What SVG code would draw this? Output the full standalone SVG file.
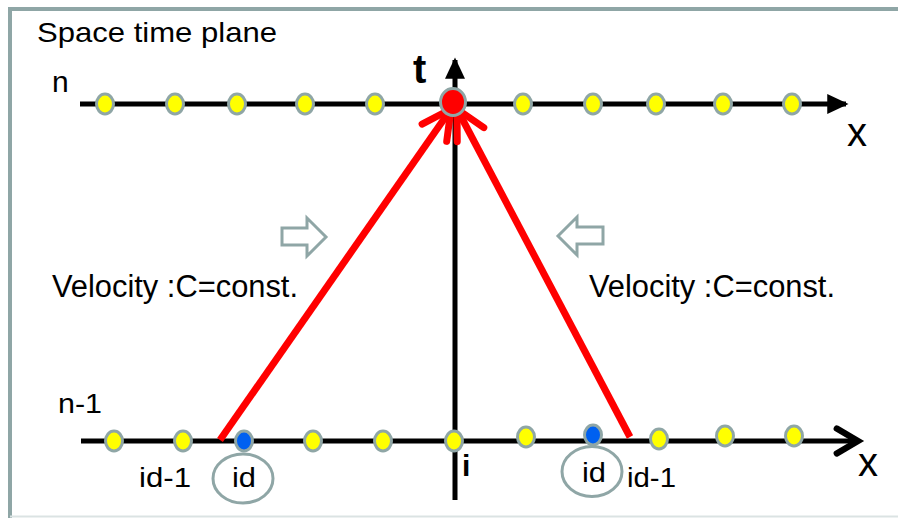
<svg xmlns="http://www.w3.org/2000/svg" width="898" height="518" viewBox="0 0 898 518">
<defs>
<style>
.lbl{font-family:"Liberation Sans",Arial,sans-serif;fill:#000;}
.dot{fill:#ffff00;stroke:#8fa6a6;stroke-width:3;}
.bdot{fill:#0060f0;stroke:#8fa6a6;stroke-width:3;}
.axis{stroke:#000;stroke-width:5;fill:none;}
.ray{stroke:#ff0000;stroke-width:7;fill:none;stroke-linecap:butt;}
.hollow{fill:#fff;stroke:#8fa6a6;stroke-width:3;stroke-linejoin:miter;}
.ring{fill:none;stroke:#8fa6a6;stroke-width:3;}
</style>
<marker id="tri" markerUnits="userSpaceOnUse" markerWidth="30" markerHeight="30" refX="0" refY="0" viewBox="-20 -10 24 20" orient="auto" overflow="visible">
<path d="M-15,-8 L2,0 L-15,8 Z" fill="#000"/>
</marker>
<marker id="open" markerUnits="userSpaceOnUse" markerWidth="30" markerHeight="30" refX="0" refY="0" viewBox="-20 -12 24 24" orient="auto" overflow="visible">
<path d="M-17,-10 L0,0 L-17,10" fill="none" stroke="#000" stroke-width="5" stroke-linecap="round" stroke-linejoin="miter"/>
</marker>
<marker id="redhead" markerUnits="userSpaceOnUse" markerWidth="40" markerHeight="40" refX="0" refY="0" viewBox="-35 -20 40 40" orient="auto" overflow="visible">
<path d="M-29,-15 L0,0 L-29,15" fill="none" stroke="#ff0000" stroke-width="7" stroke-linecap="round" stroke-linejoin="round"/>
</marker>
</defs>
<rect width="898" height="518" fill="#fff"/>
<g id="frame">
<path d="M10,520 L10,9 L900,9" fill="none" stroke="#8fa6a6" stroke-width="4"/>
<line x1="10" y1="516.5" x2="898" y2="516.5" stroke="#dbe3e3" stroke-width="2"/>
</g>
<text id="title" class="lbl" x="37" y="42" font-size="28" textLength="240" lengthAdjust="spacingAndGlyphs">Space time plane</text>
<g id="connectors">
<line id="t-axis" class="axis" x1="455" y1="500" x2="455" y2="60" stroke-width="4.5" marker-end="url(#tri)"/>
<line id="x-axis-n" class="axis" x1="80" y1="104" x2="846" y2="104" marker-end="url(#tri)"/>
<line id="x-axis-n1" class="axis" x1="81" y1="441" x2="858" y2="441" marker-end="url(#open)"/>
<line id="ray-left" class="ray" x1="220" y1="440" x2="451" y2="109" marker-end="url(#redhead)"/>
<line id="ray-right" class="ray" x1="630" y1="437" x2="457" y2="109" marker-end="url(#redhead)"/>
</g>
<g id="row-n">
<ellipse class="dot" cx="105" cy="104" rx="8.5" ry="10"/>
<ellipse class="dot" cx="175" cy="104" rx="8.5" ry="10"/>
<ellipse class="dot" cx="237" cy="104" rx="8.5" ry="10"/>
<ellipse class="dot" cx="305" cy="104" rx="8.5" ry="10"/>
<ellipse class="dot" cx="375" cy="104" rx="8.5" ry="10"/>
<ellipse class="dot" cx="523" cy="104" rx="8.5" ry="10"/>
<ellipse class="dot" cx="593" cy="104" rx="8.5" ry="10"/>
<ellipse class="dot" cx="656" cy="104" rx="8.5" ry="10"/>
<ellipse class="dot" cx="723" cy="104" rx="8.5" ry="10"/>
<ellipse class="dot" cx="792" cy="104" rx="8.5" ry="10"/>
</g>
<g id="target">
<ellipse cx="453" cy="102" rx="12.5" ry="13.5" fill="#ff0000" stroke="#8fa6a6" stroke-width="3"/>
</g>
<g id="row-n1">
<ellipse class="dot" cx="114" cy="441" rx="8.5" ry="10"/>
<ellipse class="dot" cx="183" cy="441" rx="8.5" ry="10"/>
<ellipse class="bdot" cx="244" cy="441" rx="8.5" ry="10"/>
<ellipse class="dot" cx="313" cy="441" rx="8.5" ry="10"/>
<ellipse class="dot" cx="383" cy="441" rx="8.5" ry="10"/>
<ellipse class="dot" cx="454" cy="441" rx="8.5" ry="10"/>
<ellipse class="dot" cx="526" cy="437" rx="8.5" ry="10"/>
<ellipse class="bdot" cx="593" cy="435" rx="8.5" ry="10"/>
<ellipse class="dot" cx="659" cy="439" rx="8.5" ry="10"/>
<ellipse class="dot" cx="725" cy="436" rx="8.5" ry="10"/>
<ellipse class="dot" cx="794" cy="436" rx="8.5" ry="10"/>
</g>
<g id="flow-left">
<path class="hollow" d="M282,228 L307,228 L307,218 L326,237 L307,256 L307,245 L282,245 Z"/>
</g>
<g id="flow-right">
<path class="hollow" d="M603,227 L577,227 L577,217 L558,236 L577,255 L577,244 L603,244 Z"/>
</g>
<g id="id-left">
<ellipse class="ring" cx="243" cy="478.5" rx="30" ry="24.5"/>
<text class="lbl" x="232" y="487" font-size="28" textLength="24" lengthAdjust="spacingAndGlyphs">id</text>
</g>
<g id="id-right">
<ellipse class="ring" cx="592" cy="471.5" rx="30" ry="25"/>
<text class="lbl" x="582" y="482" font-size="28" textLength="24" lengthAdjust="spacingAndGlyphs">id</text>
</g>
<g id="labels">
<text class="lbl" x="52" y="92" font-size="30">n</text>
<text class="lbl" x="58" y="413" font-size="27" textLength="44" lengthAdjust="spacingAndGlyphs">n-1</text>
<text class="lbl" x="413" y="83" font-size="40" font-weight="bold">t</text>
<text class="lbl" x="847" y="146" font-size="40">x</text>
<text class="lbl" x="858" y="476" font-size="40">x</text>
<text class="lbl" x="139" y="487" font-size="28" textLength="52" lengthAdjust="spacingAndGlyphs">id-1</text>
<text class="lbl" x="627" y="487" font-size="28" textLength="49" lengthAdjust="spacingAndGlyphs">id-1</text>
<text class="lbl" x="462" y="476" font-size="30" font-weight="bold">i</text>
<text class="lbl" x="52" y="297" font-size="31" textLength="246" lengthAdjust="spacingAndGlyphs">Velocity :C=const.</text>
<text class="lbl" x="589" y="297" font-size="31" textLength="246" lengthAdjust="spacingAndGlyphs">Velocity :C=const.</text>
</g>
</svg>
